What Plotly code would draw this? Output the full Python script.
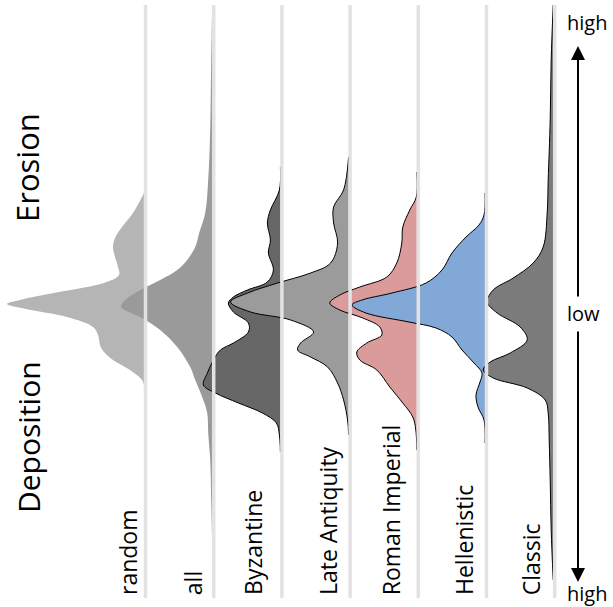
import plotly.graph_objects as go

# ---------------- data ----------------
categories = ["random", "all", "Byzantine", "Late Antiquity", "Roman Imperial", "Hellenistic", "Classic"]

# vertical value axis: positive = erosion, negative = deposition
random_levels = [1.12, 0.92, 0.78, 0.67, 0.58, 0.48, 0.38, 0.30, 0.22, 0.13, 0.05, 0.01, -0.04, -0.12, -0.22, -0.30, -0.40, -0.47, -0.55, -0.65, -0.75, -0.80]
random_density = [0, 11, 22, 29, 31, 29, 26, 25, 40, 85, 124, 137, 118, 77, 51, 46, 44, 40, 31, 14, 2, 0]

all_levels = [3.00, 2.45, 1.75, 1.25, 0.92, 0.72, 0.58, 0.45, 0.35, 0.25, 0.15, 0.05, -0.02, -0.12, -0.25, -0.42, -0.62, -0.75, -0.92, -1.08, -1.28, -1.55, -1.95, -2.40]
all_density = [0, 1, 2, 4, 7, 13, 17, 25, 35, 52, 72, 87, 91, 72, 52, 35, 22, 17, 10, 5, 4, 2, 1, 0]

byzantine_levels = [1.38, 1.15, 0.95, 0.82, 0.65, 0.52, 0.35, 0.23, 0.15, 0.08, 0.02, -0.07, -0.18, -0.27, -0.38, -0.45, -0.55, -0.68, -0.80, -0.88, -0.98, -1.08, -1.18, -1.30, -1.47]
byzantine_density = [0, 1, 10, 13, 10, 12, 7, 13, 33, 47, 52, 47, 32, 32, 47, 60, 67, 73, 77, 65, 42, 18, 4, 1, 0]

late_antiquity_levels = [1.48, 1.15, 0.98, 0.82, 0.62, 0.42, 0.32, 0.22, 0.12, 0.03, -0.07, -0.15, -0.27, -0.38, -0.45, -0.52, -0.62, -0.78, -0.95, -1.15, -1.30]
late_antiquity_density = [0, 5, 15, 15, 11, 18, 38, 71, 101, 118, 98, 58, 35, 48, 51, 38, 21, 11, 5, 1, 0]

roman_imperial_levels = [1.33, 1.08, 0.95, 0.78, 0.62, 0.42, 0.28, 0.18, 0.10, 0.02, -0.05, -0.13, -0.22, -0.30, -0.38, -0.47, -0.55, -0.65, -0.82, -0.98, -1.12, -1.25, -1.45]
roman_imperial_density = [0, 0.5, 7, 14, 15, 20, 30, 57, 77, 87, 77, 54, 37, 35, 50, 60, 57, 40, 27, 14, 4, 1, 0]

hellenistic_levels = [1.12, 0.90, 0.80, 0.68, 0.52, 0.35, 0.22, 0.12, 0.05, 0.00, -0.08, -0.17, -0.23, -0.32, -0.45, -0.58, -0.68, -0.77, -0.90, -1.02, -1.15, -1.38]
hellenistic_density = [0, 1, 6, 19, 33, 43, 59, 93, 123, 133, 119, 76, 49, 33, 23, 11, 3, 5, 9, 7, 1, 0]

classic_levels = [3.00, 2.45, 1.85, 1.25, 0.92, 0.58, 0.42, 0.27, 0.15, 0.03, -0.08, -0.22, -0.35, -0.48, -0.57, -0.65, -0.73, -0.83, -0.95, -1.08, -1.35, -1.75, -2.25, -2.75]
classic_density = [0, 2, 3, 5, 6, 10, 20, 40, 60, 66, 56, 33, 26, 43, 63, 70, 60, 26, 8, 5, 4, 3, 2, 0]

# ---------------- styling ----------------
W, H = 613, 607
SLOT_PX = 68.2          # pixel distance between categories
FIRST_PX = 144.0        # pixel position of the first category baseline
DENS_SCALE = 1.0 / SLOT_PX
FONT = "Open Sans"

fills = ["#b5b5b5", "#9a9a9a", "#676767", "#9b9b9b", "#db9b9b", "#82a8d8", "#7b7b7b"]
outlined = [False, False, True, True, True, True, True]
label_offsets_px = [-16, -19, -28, -21, -26, -21, -22]

levels_all = [random_levels, all_levels, byzantine_levels, late_antiquity_levels,
              roman_imperial_levels, hellenistic_levels, classic_levels]
density_all = [random_density, all_density, byzantine_density, late_antiquity_density,
               roman_imperial_density, hellenistic_density, classic_density]

x_lo = -FIRST_PX / SLOT_PX
x_hi = x_lo + W / SLOT_PX
y_hi = 3.05
y_lo = y_hi - H / 100.0

fig = go.Figure()

for i, (lv, dens) in enumerate(zip(levels_all, density_all)):
    xs = [i - d * DENS_SCALE for d in dens]
    fig.add_trace(go.Scatter(
        x=xs, y=lv, mode="lines", fill="toself",
        fillcolor=fills[i],
        line=dict(color="black" if outlined[i] else fills[i],
                  width=1 if outlined[i] else 0,
                  shape="spline", smoothing=1.0),
        hoverinfo="skip", showlegend=False,
    ))

shapes = []
for i in range(len(categories)):
    shapes.append(dict(type="line", xref="x", yref="y", x0=i + 1.5 / SLOT_PX, x1=i + 1.5 / SLOT_PX,
                       y0=3.00, y1=-2.93, layer="above",
                       line=dict(color="#e2e2e2", width=3.5)))

annotations = []
for i, name in enumerate(categories):
    annotations.append(dict(x=i + label_offsets_px[i] / SLOT_PX, y=-2.92, xref="x", yref="y",
                            text=name, showarrow=False, textangle=-90,
                            xanchor="center", yanchor="bottom",
                            font=dict(family=FONT, size=23, color="black")))


def px(xp):
    return xp / W


def py(yp):
    return 1 - yp / H


def side_text(x, y, text, size, angle=0):
    return dict(x=px(x), y=py(y), xref="paper", yref="paper", text=text, showarrow=False,
                textangle=angle, xanchor="center", yanchor="middle",
                font=dict(family=FONT, size=size, color="black"))


annotations += [
    side_text(27, 168, "Erosion", 31, -90),
    side_text(28, 437, "Deposition", 30, -90),
    side_text(587, 22, "high", 20),
    side_text(583, 313, "low", 20),
    side_text(587, 593, "high", 20),
    dict(x=px(578), y=py(46), xref="paper", yref="paper", text="", showarrow=True,
         ax=0, ay=252, arrowhead=2, arrowsize=1.4, arrowwidth=2, arrowcolor="black", standoff=0),
    dict(x=px(578), y=py(582), xref="paper", yref="paper", text="", showarrow=True,
         ax=0, ay=-252, arrowhead=2, arrowsize=1.4, arrowwidth=2, arrowcolor="black", standoff=0),
]

fig.update_layout(
    width=W, height=H,
    margin=dict(l=0, r=0, t=0, b=0),
    paper_bgcolor="white", plot_bgcolor="white",
    xaxis=dict(range=[x_lo, x_hi], visible=False, fixedrange=True),
    yaxis=dict(range=[y_lo, y_hi], visible=False, fixedrange=True),
    shapes=shapes, annotations=annotations,
    showlegend=False,
)

fig.write_html("out.html", config={"displayModeBar": False},
               post_script="document.body.style.margin='0';")
